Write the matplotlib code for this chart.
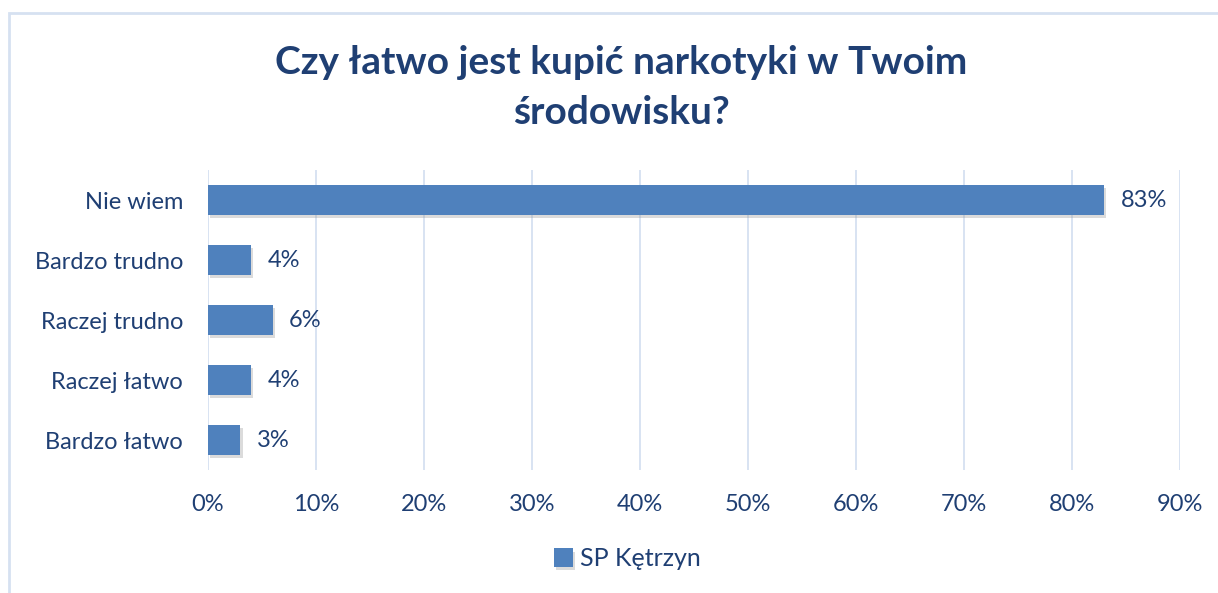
import matplotlib.pyplot as plt
import matplotlib.patheffects as pe
from matplotlib.patches import Rectangle

# Dane
kategorie = ['Bardzo łatwo', 'Raczej łatwo', 'Raczej trudno', 'Bardzo trudno', 'Nie wiem']
wartosci = [3, 4, 6, 4, 83]
ticki = [0, 10, 20, 30, 40, 50, 60, 70, 80, 90]
seria = 'SP Kętrzyn'

kolor_tekstu = '#1F3F73'
kolor_slupka = '#4F81BD'

plt.rcParams['font.family'] = ['Lato', 'DejaVu Sans']

fig = plt.figure(figsize=(12.18, 5.93), dpi=100)
ax = fig.add_axes([0.1708, 0.2074, 0.798, 0.5059])

slupki = ax.barh(kategorie, wartosci, height=0.5, color=kolor_slupka, label=seria, zorder=3)
for s in slupki:
    s.set_path_effects([pe.SimplePatchShadow(offset=(1.5, -2.5), shadow_rgbFace='#999999', alpha=0.35), pe.Normal()])

for i, v in enumerate(wartosci):
    ax.text(v + 1.5, i, f"{v}%", va='center', ha='left', fontsize=17, color=kolor_tekstu)

ax.set_xlim(0, 90)
ax.set_ylim(-0.5, 4.5)
ax.set_xticks(ticki)
ax.set_xticklabels([f"{t}%" for t in ticki])
ax.tick_params(axis='both', length=0, labelsize=17, labelcolor=kolor_tekstu)
ax.tick_params(axis='x', pad=17)
ax.tick_params(axis='y', pad=18)
ax.grid(axis='x', color='#D6E1F1', linewidth=1.3, zorder=0)
for sp in ax.spines.values():
    sp.set_visible(False)

fig.text(0.51, 0.895, 'Czy łatwo jest kupić narkotyki w Twoim', ha='center', va='center',
         fontsize=28, fontweight='bold', color=kolor_tekstu)
fig.text(0.51, 0.81, 'środowisku?', ha='center', va='center',
         fontsize=28, fontweight='bold', color=kolor_tekstu)

fig.legend(handles=[slupki], labels=[seria], loc='center', bbox_to_anchor=(0.515, 0.058),
           frameon=False, fontsize=18, labelcolor=kolor_tekstu,
           handlelength=0.75, handleheight=0.75, handletextpad=0.3)

# Ramka wykresu
fig.patches.append(Rectangle((9 / 1218, -0.01), 1.02, 1 - 13 / 593 + 0.01, transform=fig.transFigure,
                             fill=False, edgecolor='#D6E1F1', linewidth=2))

fig.savefig('out.png', dpi=100)
